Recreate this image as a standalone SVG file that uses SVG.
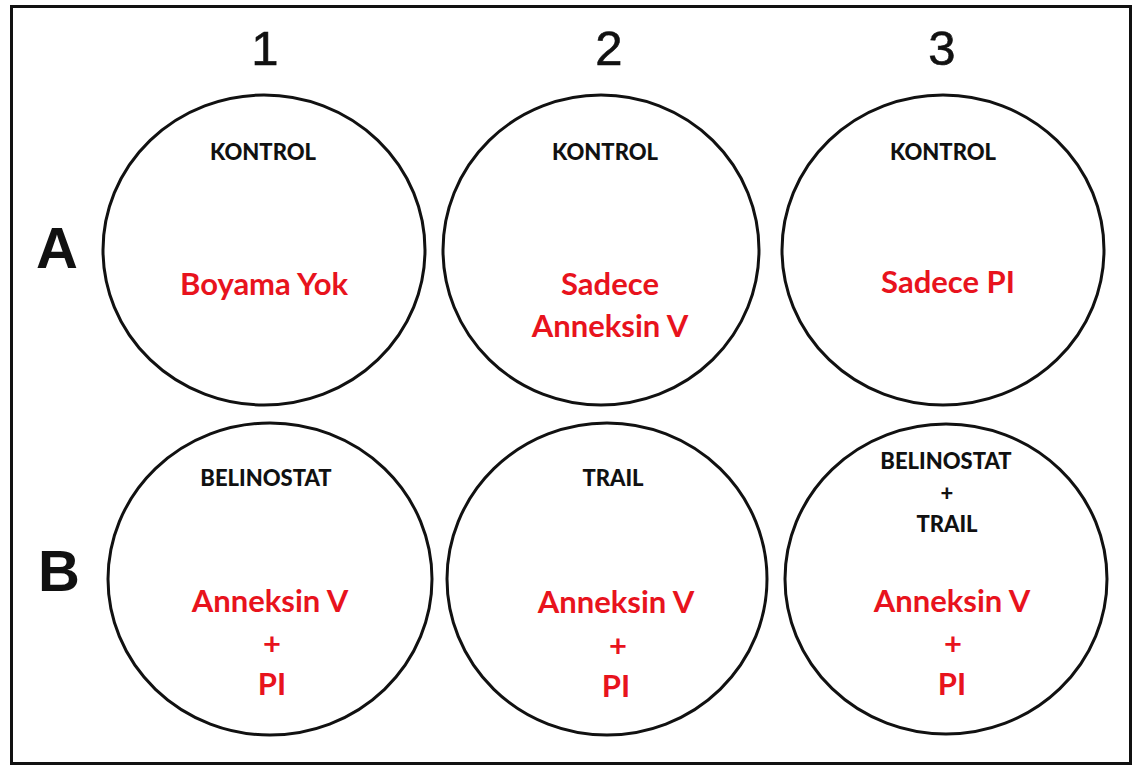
<svg xmlns="http://www.w3.org/2000/svg" width="1137" height="766" viewBox="0 0 1137 766">
  <style>
    .frame { fill: #ffffff; stroke: #111111; stroke-width: 3; }
    .well { fill: #ffffff; stroke: #111111; stroke-width: 3; }
    .col { font-family: "Liberation Sans", Arial, sans-serif; font-size: 49px; fill: #111111; stroke: #111111; stroke-width: 0.6; text-anchor: middle; }
    .row { font-family: "Liberation Sans", Arial, sans-serif; font-size: 58px; font-weight: bold; fill: #111111; }
    .cond { font-family: Lato, "Open Sans", sans-serif; font-size: 22px; font-weight: 900; fill: #111111; text-anchor: middle; }
    .stain { font-family: Lato, "Open Sans", sans-serif; font-size: 31px; font-weight: bold; fill: #e8131d; text-anchor: middle; }
  </style>

  <rect width="1137" height="766" fill="#ffffff"/>
  <rect class="frame" x="11.5" y="6.5" width="1119" height="757"/>

  <!-- column numbers -->
  <g id="column-labels">
    <text class="col" x="265" y="65">1</text>
    <text class="col" x="609" y="65">2</text>
    <text class="col" x="942" y="65">3</text>
  </g>

  <!-- row letters -->
  <g id="row-labels">
    <text class="row" x="36" y="268">A</text>
    <text class="row" x="38" y="591">B</text>
  </g>

  <!-- row A wells -->
  <g id="well-A1">
    <ellipse class="well" cx="264" cy="250" rx="161" ry="155"/>
    <text class="cond" x="263" y="160">KONTROL</text>
    <text class="stain" x="264" y="295">Boyama Yok</text>
  </g>
  <g id="well-A2">
    <ellipse class="well" cx="601" cy="250" rx="158" ry="155"/>
    <text class="cond" x="605" y="160">KONTROL</text>
    <text class="stain" x="610" y="295">Sadece</text>
    <text class="stain" x="610" y="337">Anneksin V</text>
  </g>
  <g id="well-A3">
    <ellipse class="well" cx="943" cy="250" rx="161" ry="155"/>
    <text class="cond" x="943" y="160">KONTROL</text>
    <text class="stain" x="948" y="293">Sadece PI</text>
  </g>

  <!-- row B wells -->
  <g id="well-B1">
    <ellipse class="well" cx="270" cy="579" rx="162" ry="156"/>
    <text class="cond" x="266" y="486">BELINOSTAT</text>
    <text class="stain" x="270" y="612">Anneksin V</text>
    <text class="stain" x="272" y="655">+</text>
    <text class="stain" x="272" y="695">PI</text>
  </g>
  <g id="well-B2">
    <ellipse class="well" cx="607" cy="579" rx="160" ry="156"/>
    <text class="cond" x="613" y="486">TRAIL</text>
    <text class="stain" x="616" y="613">Anneksin V</text>
    <text class="stain" x="618" y="657">+</text>
    <text class="stain" x="616" y="697">PI</text>
  </g>
  <g id="well-B3">
    <ellipse class="well" cx="946" cy="579" rx="161" ry="155"/>
    <text class="cond" x="946" y="469">BELINOSTAT</text>
    <text class="cond" x="947" y="501">+</text>
    <text class="cond" x="947" y="532">TRAIL</text>
    <text class="stain" x="952" y="612">Anneksin V</text>
    <text class="stain" x="953" y="655">+</text>
    <text class="stain" x="952" y="695">PI</text>
  </g>

  <!-- no connectors in this layout -->
  <g id="connectors"/>
</svg>
